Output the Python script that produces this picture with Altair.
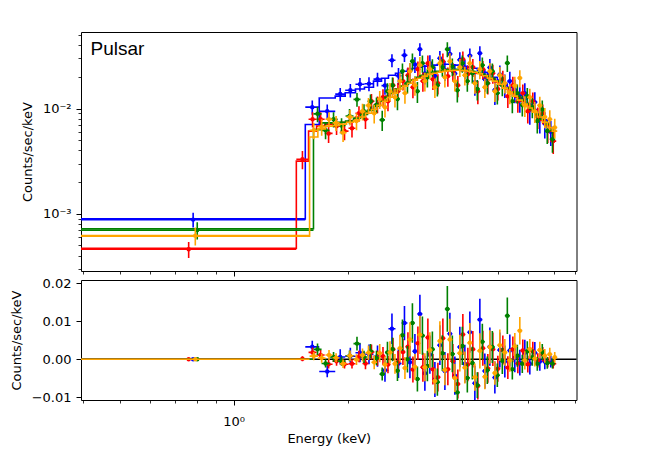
import math
import altair as alt
import pandas as pd

# ---------------- data ----------------
BLUE_EDGES = [0.395, 1.546, 1.683, 1.855, 1.971, 2.098, 2.216, 2.341, 2.458, 2.564, 2.676,
              2.776, 2.878, 2.967, 3.058, 3.152, 3.249, 3.350, 3.453, 3.560, 3.670, 3.783,
              3.899, 4.020, 4.144, 4.272, 4.404, 4.540, 4.680, 4.825, 4.974, 5.127, 5.285,
              5.448, 5.616, 5.790, 5.968, 6.153, 6.343, 6.538, 6.740, 7.031]
BLUE_MODEL = [8.95e-4, 0.00705, 0.0126, 0.0131, 0.0141, 0.0153, 0.0159, 0.0182, 0.0194, 0.0207,
              0.0216, 0.0226, 0.0236, 0.0241, 0.0247, 0.0252, 0.0258, 0.0258, 0.0263, 0.0263,
              0.0263, 0.0258, 0.0258, 0.0252, 0.0247, 0.0241, 0.0231, 0.0221, 0.0212, 0.0198,
              0.0186, 0.0174, 0.0159, 0.0146, 0.0134, 0.0123, 0.0110, 0.0098, 0.0088, 0.0078,
              0.0066]
BLUE_DATA = [8.8e-4, 0.0103, 0.0094, 0.0137, 0.0149, 0.0170, 0.0172, 0.0190, 0.0165, 0.0287,
             0.0205, 0.0321, 0.0228, 0.0262, 0.0366, 0.0215, 0.0270, 0.0205, 0.0300, 0.0232,
             0.0330, 0.0215, 0.0290, 0.0240, 0.0318, 0.0178, 0.0335, 0.0190, 0.0245, 0.0150,
             0.0210, 0.0168, 0.0182, 0.0150, 0.0125, 0.0140, 0.0098, 0.0115, 0.0082, 0.0072,
             0.0060]
BLUE_ERR = [1.4e-4, 0.0016, 0.0015, 0.0020, 0.0022, 0.0025, 0.0026, 0.0028, 0.0030, 0.0040,
            0.0038, 0.0045, 0.0042, 0.0045, 0.0050, 0.0046, 0.0050, 0.0046, 0.0052, 0.0050,
            0.0055, 0.0050, 0.0053, 0.0050, 0.0054, 0.0046, 0.0055, 0.0046, 0.0050, 0.0042,
            0.0046, 0.0042, 0.0042, 0.0038, 0.0034, 0.0034, 0.0028, 0.0028, 0.0024, 0.0020,
            0.0016]

RED_EDGES = [0.395, 1.464, 1.577, 1.656, 1.739, 1.825, 1.916, 2.011, 2.098, 2.189, 2.271,
             2.355, 2.443, 2.518, 2.596, 2.676, 2.758, 2.843, 2.931, 3.021, 3.114, 3.210,
             3.309, 3.412, 3.517, 3.625, 3.737, 3.852, 3.971, 4.094, 4.220, 4.350, 4.485,
             4.623, 4.766, 4.913, 5.065, 5.221, 5.383, 5.549, 5.720, 5.894, 6.078, 6.266,
             6.457, 6.657, 6.862, 7.116]
RED_MODEL = [4.71e-4, 0.00316, 0.0061, 0.0068, 0.0071, 0.0073, 0.0074, 0.0077, 0.0083, 0.0090,
             0.0098, 0.0107, 0.0120, 0.0131, 0.0140, 0.0153, 0.0163, 0.0174, 0.0186, 0.0194,
             0.0203, 0.0212, 0.0216, 0.0221, 0.0226, 0.0229, 0.0231, 0.0231, 0.0229, 0.0226,
             0.0221, 0.0216, 0.0207, 0.0198, 0.0190, 0.0178, 0.0166, 0.0153, 0.0140, 0.0128,
             0.0117, 0.0107, 0.0096, 0.0086, 0.0077, 0.0069, 0.0061]
RED_DATA = [4.6e-4, 0.00330, 0.0079, 0.0079, 0.0058, 0.0068, 0.0061, 0.0065, 0.0090, 0.0079,
            0.0117, 0.0110, 0.0128, 0.0117, 0.0166, 0.0146, 0.0182, 0.0207, 0.0159, 0.0236,
            0.0182, 0.0269, 0.0190, 0.0174, 0.0281, 0.0203, 0.0226, 0.0166, 0.0294, 0.0212,
            0.0247, 0.0146, 0.0236, 0.0174, 0.0216, 0.0153, 0.0190, 0.0131, 0.0166, 0.0117,
            0.0140, 0.0094, 0.0117, 0.0083, 0.0090, 0.0061, 0.0049]
RED_ERR = [0.8e-4, 0.00065, 0.0013, 0.0013, 0.0011, 0.0012, 0.0011, 0.0012, 0.0015, 0.0015,
           0.0020, 0.0020, 0.0024, 0.0023, 0.0030, 0.0029, 0.0034, 0.0038, 0.0034, 0.0044,
           0.0038, 0.0050, 0.0040, 0.0038, 0.0052, 0.0042, 0.0045, 0.0038, 0.0054, 0.0044,
           0.0048, 0.0036, 0.0046, 0.0038, 0.0044, 0.0034, 0.0038, 0.0030, 0.0034, 0.0026,
           0.0029, 0.0022, 0.0025, 0.0019, 0.0019, 0.0014, 0.0012]

GREEN_EDGES = [0.395, 1.625, 1.707, 1.792, 1.881, 1.975, 2.073, 2.163, 2.257, 2.341, 2.428,
               2.510, 2.588, 2.668, 2.750, 2.835, 2.922, 3.012, 3.105, 3.201, 3.299, 3.401,
               3.506, 3.614, 3.725, 3.840, 3.959, 4.081, 4.207, 4.337, 4.471, 4.609, 4.751,
               4.898, 5.049, 5.205, 5.366, 5.532, 5.702, 5.877, 6.060, 6.247, 6.438, 6.637,
               6.841, 7.072]
GREEN_MODEL = [7.2e-4, 0.0063, 0.0073, 0.0073, 0.0074, 0.0076, 0.0081, 0.0088, 0.0096, 0.0105,
               0.0117, 0.0128, 0.0140, 0.0153, 0.0163, 0.0174, 0.0186, 0.0198, 0.0207, 0.0216,
               0.0221, 0.0226, 0.0231, 0.0234, 0.0236, 0.0236, 0.0234, 0.0231, 0.0226, 0.0221,
               0.0212, 0.0203, 0.0194, 0.0182, 0.0170, 0.0156, 0.0143, 0.0131, 0.0120, 0.0110,
               0.0098, 0.0088, 0.0079, 0.0071, 0.0062]
GREEN_DATA = [7.0e-4, 0.0089, 0.0062, 0.0079, 0.0069, 0.0085, 0.0122, 0.0094, 0.0117, 0.0108,
              0.0078, 0.0146, 0.0166, 0.0123, 0.0226, 0.0174, 0.0281, 0.0146, 0.0269, 0.0198,
              0.0247, 0.0166, 0.0247, 0.0366, 0.0250, 0.0149, 0.0269, 0.0182, 0.0216, 0.0153,
              0.0258, 0.0174, 0.0226, 0.0140, 0.0166, 0.0270, 0.0117, 0.0140, 0.0108, 0.0131,
              0.0103, 0.0076, 0.0098, 0.0061, 0.0051]
GREEN_ERR = [1.3e-4, 0.0015, 0.0011, 0.0013, 0.0012, 0.0014, 0.0018, 0.0016, 0.0019, 0.0019,
             0.0017, 0.0028, 0.0031, 0.0027, 0.0041, 0.0035, 0.0052, 0.0033, 0.0050, 0.0040,
             0.0047, 0.0036, 0.0047, 0.0060, 0.0048, 0.0035, 0.0050, 0.0038, 0.0043, 0.0034,
             0.0047, 0.0036, 0.0042, 0.0031, 0.0035, 0.0048, 0.0027, 0.0029, 0.0024, 0.0026,
             0.0022, 0.0018, 0.0021, 0.0015, 0.0013]

ORANGE_EDGES = [0.395, 1.587, 1.669, 1.748, 1.825, 1.905, 1.987, 2.073, 2.150, 2.230, 2.312,
                2.391, 2.473, 2.549, 2.628, 2.708, 2.792, 2.878, 2.967, 3.058, 3.152, 3.249,
                3.350, 3.453, 3.560, 3.670, 3.783, 3.899, 4.020, 4.144, 4.272, 4.404, 4.540,
                4.680, 4.825, 4.974, 5.127, 5.285, 5.448, 5.616, 5.790, 5.968, 6.153, 6.343,
                6.538, 6.740, 6.946, 7.160]
ORANGE_MODEL = [6.12e-4, 0.00537, 0.0064, 0.0068, 0.0069, 0.0071, 0.0074, 0.0077, 0.0083, 0.0090,
                0.0098, 0.0107, 0.0117, 0.0128, 0.0140, 0.0153, 0.0163, 0.0174, 0.0186, 0.0194,
                0.0203, 0.0212, 0.0216, 0.0221, 0.0226, 0.0229, 0.0231, 0.0231, 0.0229, 0.0226,
                0.0221, 0.0214, 0.0205, 0.0194, 0.0182, 0.0170, 0.0156, 0.0143, 0.0131, 0.0120,
                0.0110, 0.0101, 0.0092, 0.0083, 0.0074, 0.0066, 0.0061]
ORANGE_DATA = [6.2e-4, 0.0062, 0.0067, 0.0079, 0.0073, 0.0059, 0.0083, 0.0076, 0.0094, 0.0107,
               0.0090, 0.0123, 0.0103, 0.0146, 0.0128, 0.0182, 0.0140, 0.0226, 0.0166, 0.0258,
               0.0182, 0.0236, 0.0159, 0.0269, 0.0198, 0.0281, 0.0182, 0.0247, 0.0207, 0.0269,
               0.0174, 0.0236, 0.0159, 0.0226, 0.0146, 0.0207, 0.0174, 0.0140, 0.0165, 0.0195,
               0.0107, 0.0128, 0.0094, 0.0107, 0.0083, 0.0079, 0.0066]
ORANGE_ERR = [1.2e-4, 0.0011, 0.0012, 0.0013, 0.0012, 0.0011, 0.0014, 0.0014, 0.0017, 0.0019,
              0.0018, 0.0024, 0.0021, 0.0029, 0.0026, 0.0035, 0.0029, 0.0045, 0.0034, 0.0050,
              0.0037, 0.0047, 0.0033, 0.0052, 0.0040, 0.0054, 0.0037, 0.0048, 0.0042, 0.0052,
              0.0036, 0.0046, 0.0033, 0.0044, 0.0031, 0.0041, 0.0035, 0.0030, 0.0035, 0.0036,
              0.0024, 0.0026, 0.0021, 0.0022, 0.0018, 0.0017, 0.0014]

SERIES = [
    ("#0000ff", BLUE_EDGES, BLUE_MODEL, BLUE_DATA, BLUE_ERR),
    ("#ff0000", RED_EDGES, RED_MODEL, RED_DATA, RED_ERR),
    ("#008000", GREEN_EDGES, GREEN_MODEL, GREEN_DATA, GREEN_ERR),
    ("#ffa500", ORANGE_EDGES, ORANGE_MODEL, ORANGE_DATA, ORANGE_ERR),
]

X_DOMAIN = [0.395, 8.05]
YT_DOMAIN = [2.86e-4, 0.0533]
YR_DOMAIN = [-0.0107, 0.0208]
X_MAJOR = [1.0]
X_MINOR = [0.4, 0.5, 0.6, 0.7, 0.8, 0.9, 2, 3, 4, 5, 6, 7, 8]
YT_MAJOR = [1e-3, 1e-2]
YT_MINOR = [3e-4, 4e-4, 5e-4, 6e-4, 7e-4, 8e-4, 9e-4,
            2e-3, 3e-3, 4e-3, 5e-3, 6e-3, 7e-3, 8e-3, 9e-3,
            2e-2, 3e-2, 4e-2, 5e-2]
YR_TICKS = [-0.01, 0.0, 0.01, 0.02]
PANEL_LABEL = "Pulsar"

# ---------------- styling ----------------
FONT = "DejaVu Sans"
W, HT, HR = 495.5, 239, 120
LW = 1.6

for c, e, m, d, er in SERIES:
    assert len(e) == len(m) + 1 and len(m) == len(d) == len(er), (c, len(e), len(m), len(d), len(er))

xs = alt.Scale(type="log", domain=X_DOMAIN, nice=False)
yts = alt.Scale(type="log", domain=YT_DOMAIN, nice=False)
yrs = alt.Scale(type="linear", domain=YR_DOMAIN, nice=False, zero=False)

AX = dict(labelFont=FONT, labelFontSize=13, labelColor="black", titleFont=FONT, titleFontSize=13,
          titleFontWeight="normal", titleColor="black", tickColor="black", domain=False, grid=False)

ax_x_top = alt.Axis(orient="bottom", values=X_MAJOR, labels=False, tickSize=5, tickWidth=1, title=None, **AX)
ax_x_minor = alt.Axis(orient="bottom", values=X_MINOR, labels=False, tickSize=3, tickWidth=0.8, title=None, **AX)
ax_x_bot = alt.Axis(orient="bottom", values=X_MAJOR, labelExpr="'10\u2070'", tickSize=5, tickWidth=1,
                    labelPadding=10, title="Energy (keV)", titlePadding=4, labelFlush=False, **AX)
ax_yt = alt.Axis(orient="left", values=YT_MAJOR,
                 labelExpr="datum.value < 0.005 ? '10\u207b\u00b3' : '10\u207b\u00b2'",
                 tickSize=5, tickWidth=1, labelPadding=5, title="Counts/sec/keV", titlePadding=8, **AX)
ax_yt_minor = alt.Axis(orient="left", values=YT_MINOR, labels=False, tickSize=3, tickWidth=0.8, title=None, **AX)
ax_yr = alt.Axis(orient="left", values=YR_TICKS, format=".2f", tickSize=5, tickWidth=1, labelPadding=5,
                 title="Counts/sec/keV", titlePadding=8, **AX)


def bins_frame(edges, model, data, err):
    rows = []
    for i in range(len(model)):
        lo, hi = edges[i], edges[i + 1]
        r = data[i] - model[i]
        rows.append(dict(lo=lo, hi=hi, cx=math.sqrt(lo * hi), val=data[i],
                         vlo=data[i] - err[i], vhi=data[i] + err[i],
                         res=r, rlo=r - err[i], rhi=r + err[i]))
    return pd.DataFrame(rows)


def steps_frame(edges, model):
    return pd.DataFrame({"e": list(edges), "m": list(model) + [model[-1]]})


top_layers = [
    alt.Chart(pd.DataFrame({"mx": X_MINOR})).mark_point(opacity=0).encode(
        x=alt.X("mx:Q", scale=xs, axis=ax_x_minor)),
    alt.Chart(pd.DataFrame({"my": YT_MINOR})).mark_point(opacity=0).encode(
        y=alt.Y("my:Q", scale=yts, axis=ax_yt_minor)),
]
bot_layers = [
    alt.Chart(pd.DataFrame({"mx": X_MINOR})).mark_point(opacity=0).encode(
        x=alt.X("mx:Q", scale=xs, axis=ax_x_minor)),
    alt.Chart(pd.DataFrame({"z": [0.0]})).mark_rule(color="black", strokeWidth=1.5).encode(
        y=alt.Y("z:Q", scale=yrs, axis=None)),
]

for k, (color, edges, model, data, err) in enumerate(SERIES):
    first = k == 0
    bf = bins_frame(edges, model, data, err)
    sf = steps_frame(edges, model)
    top_layers += [
        alt.Chart(sf).mark_line(interpolate="step-after", color=color, strokeWidth=LW, clip=True).encode(
            x=alt.X("e:Q", scale=xs, axis=ax_x_top if first else None),
            y=alt.Y("m:Q", scale=yts, axis=ax_yt if first else None)),
        alt.Chart(bf).mark_rule(color=color, strokeWidth=LW, clip=True).encode(
            x=alt.X("lo:Q", scale=xs, axis=None), x2="hi",
            y=alt.Y("val:Q", scale=yts, axis=None)),
        alt.Chart(bf).mark_rule(color=color, strokeWidth=LW, clip=True).encode(
            x=alt.X("cx:Q", scale=xs, axis=None),
            y=alt.Y("vlo:Q", scale=yts, axis=None), y2="vhi"),
        alt.Chart(bf).mark_circle(color=color, size=20, opacity=1, clip=True).encode(
            x=alt.X("cx:Q", scale=xs, axis=None),
            y=alt.Y("val:Q", scale=yts, axis=None)),
    ]
    bot_layers += [
        alt.Chart(bf).mark_rule(color=color, strokeWidth=LW, clip=True).encode(
            x=alt.X("lo:Q", scale=xs, axis=ax_x_bot if first else None), x2="hi",
            y=alt.Y("res:Q", scale=yrs, axis=ax_yr if first else None)),
        alt.Chart(bf).mark_rule(color=color, strokeWidth=LW, clip=True).encode(
            x=alt.X("cx:Q", scale=xs, axis=None),
            y=alt.Y("rlo:Q", scale=yrs, axis=None), y2="rhi"),
        alt.Chart(bf).mark_circle(color=color, size=20, opacity=1, clip=True).encode(
            x=alt.X("cx:Q", scale=xs, axis=None),
            y=alt.Y("res:Q", scale=yrs, axis=None)),
    ]

top_layers.append(
    alt.Chart(pd.DataFrame({"t": [PANEL_LABEL]})).mark_text(
        align="left", baseline="alphabetic", font="Liberation Sans", fontSize=19, color="black"
    ).encode(x=alt.value(9.5), y=alt.value(23), text="t:N")
)

top = alt.layer(*top_layers).resolve_axis(x="independent", y="independent").properties(width=W, height=HT)
bottom = alt.layer(*bot_layers).resolve_axis(x="independent", y="independent").properties(width=W, height=HR)

chart = (
    alt.vconcat(top, bottom, spacing=9, bounds="flush")
    .properties(padding={"left": 1, "top": 23, "right": 10, "bottom": 5}, background="white")
    .configure_view(stroke="black", strokeWidth=1)
)

chart.save("out.html", embed_options={"renderer": "svg", "actions": False})
